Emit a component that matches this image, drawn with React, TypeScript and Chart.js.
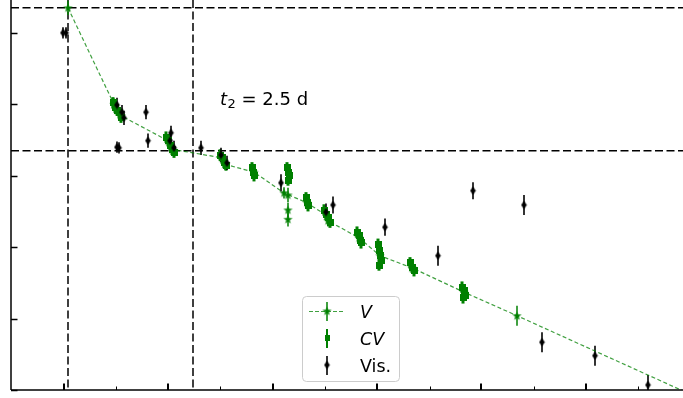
import React, { useEffect, useRef } from "react";
import { Chart, registerables } from "chart.js";

Chart.register(...registerables);

// Nova light curve: time since maximum (days) against magnitude.
const peakTime = 0;
const peakMag = 6.65;
const t2Days = 2.5;

// V photometry joined by the dashed curve
const vTimes = [0.0, 0.92, 0.98, 1.06, 2.0, 2.08, 3.08, 3.14, 3.72, 4.32, 4.78, 5.18, 5.2, 5.82, 6.24, 6.88, 7.92, 8.98, 13.3];
const vMags = [6.65, 8.0, 8.08, 8.16, 8.51, 8.63, 8.75, 8.84, 8.95, 9.24, 9.38, 9.56, 9.63, 9.87, 10.12, 10.29, 10.63, 10.96, 12.33];
const vErrs = [0.1, 0.08, 0.08, 0.08, 0.08, 0.08, 0.08, 0.08, 0.08, 0.08, 0.08, 0.08, 0.08, 0.08, 0.08, 0.08, 0.08, 0.14, 0.15];

// V points of the same night lying off the curve
const vSideTimes = [4.4, 4.4, 4.4];
const vSideMags = [9.27, 9.48, 9.61];
const vSideErrs = [0.1, 0.1, 0.1];

// Unfiltered CCD (CV) photometry
const cvTimes = [
  0.9, 0.94, 0.98, 1.02, 1.06,
  1.96, 2.0, 2.04, 2.08, 2.12,
  3.04, 3.08, 3.12, 3.16,
  3.68, 3.7, 3.72,
  4.38, 4.4, 4.42, 4.4,
  4.76, 4.78, 4.8,
  5.12, 5.16, 5.2, 5.24,
  5.78, 5.82, 5.84, 5.86,
  6.2, 6.22, 6.24, 6.26, 6.22,
  6.84, 6.88, 6.92,
  7.88, 7.92, 7.94, 7.9,
];
const cvMags = [
  7.98, 8.04, 8.08, 8.12, 8.18,
  8.46, 8.51, 8.57, 8.63, 8.67,
  8.71, 8.75, 8.81, 8.85,
  8.89, 8.95, 9.0,
  8.89, 8.95, 9.0, 9.06,
  9.31, 9.37, 9.42,
  9.48, 9.54, 9.59, 9.65,
  9.79, 9.84, 9.9, 9.94,
  9.96, 10.04, 10.11, 10.18, 10.25,
  10.22, 10.28, 10.33,
  10.56, 10.61, 10.67, 10.71,
];
const cvErrs = cvTimes.map(() => 0.08);

// Visual estimates
const visTimes = [-0.1, -0.04, 0.98, 1.08, 1.12, 0.98, 1.02, 1.56, 1.6, 2.06, 2.04, 2.12, 2.66, 3.06, 3.18, 4.26, 5.16, 5.3, 6.34, 7.4, 8.1, 9.12, 9.48, 10.54, 11.6];
const visMags = [7.0, 7.0, 8.01, 8.11, 8.19, 8.6, 8.61, 8.11, 8.51, 8.4, 8.51, 8.61, 8.61, 8.71, 8.82, 9.1, 9.51, 9.41, 9.72, 10.12, 9.21, 9.41, 11.33, 11.52, 11.93];
const visErrs = [0.08, 0.08, 0.1, 0.1, 0.1, 0.08, 0.08, 0.1, 0.1, 0.1, 0.1, 0.1, 0.1, 0.1, 0.1, 0.12, 0.12, 0.12, 0.12, 0.14, 0.12, 0.14, 0.14, 0.14, 0.14];

// Axis ranges and tick positions
const xRange = [-1.14, 12.3];
const yRange = [6.54, 12.0];
const xMajorTicks = [-0.08, 2.01, 4.1, 6.18, 8.27, 10.36];
const xMinorTicks = [0.96, 3.05, 5.14, 7.23, 9.31, 11.4];
const yMajorTicks = [7, 8, 9, 10, 11, 12];

const GREEN = "#008000";
const FONT = "'DejaVu Sans', sans-serif";

const pts = (ts: number[], ms: number[]) => ts.map((t, i) => ({ x: t, y: ms[i] }));

function makeMarker(w: number, h: number, draw: (g: CanvasRenderingContext2D) => void) {
  const c = document.createElement("canvas");
  c.width = w;
  c.height = h;
  draw(c.getContext("2d")!);
  return c;
}

function starMarker(color: string) {
  return makeMarker(11, 11, (g) => {
    g.fillStyle = color;
    g.beginPath();
    for (let k = 0; k < 10; k++) {
      const r = k % 2 === 0 ? 4.8 : 1.9;
      const a = -Math.PI / 2 + (k * Math.PI) / 5;
      const px = 5.5 + r * Math.cos(a);
      const py = 5.8 + r * Math.sin(a);
      if (k === 0) g.moveTo(px, py);
      else g.lineTo(px, py);
    }
    g.closePath();
    g.fill();
  });
}

function squareMarker(color: string) {
  return makeMarker(7, 7, (g) => {
    g.fillStyle = color;
    g.fillRect(0, 0, 7, 7);
  });
}

function diamondMarker(color: string) {
  return makeMarker(7, 9, (g) => {
    g.fillStyle = color;
    g.beginPath();
    g.moveTo(3.5, 0.3);
    g.lineTo(6.3, 4.5);
    g.lineTo(3.5, 8.7);
    g.lineTo(0.7, 4.5);
    g.closePath();
    g.fill();
  });
}

function seg(ctx: CanvasRenderingContext2D, x1: number, y1: number, x2: number, y2: number) {
  ctx.beginPath();
  ctx.moveTo(x1, y1);
  ctx.lineTo(x2, y2);
  ctx.stroke();
}

const overlay = {
  id: "overlay",
  beforeDatasetsDraw(chart: any) {
    const { ctx, chartArea: a, scales } = chart;
    const x = scales.x;
    const y = scales.y;
    ctx.save();
    ctx.beginPath();
    ctx.rect(a.left, a.top, a.right - a.left, a.bottom - a.top);
    ctx.clip();

    // maximum and maximum + 2 mag; time of maximum and t2
    ctx.strokeStyle = "#000";
    ctx.lineWidth = 1.5;
    ctx.setLineDash([8, 3.5]);
    for (const m of [peakMag, peakMag + 2]) {
      const py = y.getPixelForValue(m);
      seg(ctx, a.left, py, a.right, py);
    }
    for (const t of [peakTime, peakTime + t2Days]) {
      const px = x.getPixelForValue(t);
      seg(ctx, px, a.top, px, a.bottom);
    }
    ctx.setLineDash([]);

    // vertical error bars
    chart.data.datasets.forEach((ds: any) => {
      if (!ds.errors) return;
      ctx.strokeStyle = ds.errColor;
      ctx.lineWidth = ds.errWidth;
      ds.data.forEach((p: any, i: number) => {
        const px = x.getPixelForValue(p.x);
        seg(ctx, px, y.getPixelForValue(p.y - ds.errors[i]), px, y.getPixelForValue(p.y + ds.errors[i]));
      });
    });
    ctx.restore();
  },
  afterDatasetsDraw(chart: any) {
    const { ctx, chartArea: a, scales } = chart;
    const x = scales.x;
    const y = scales.y;
    ctx.save();

    // spines
    ctx.strokeStyle = "#000";
    ctx.lineWidth = 1.5;
    seg(ctx, a.left, a.top, a.left, a.bottom);
    seg(ctx, a.left, a.bottom, a.right, a.bottom);

    // inward ticks
    for (const m of yMajorTicks) {
      const py = Math.round(y.getPixelForValue(m)) + 0.5;
      seg(ctx, a.left, py, a.left + 6.5, py);
    }
    ctx.lineWidth = 2;
    for (const t of xMajorTicks) {
      const px = Math.round(x.getPixelForValue(t));
      seg(ctx, px, a.bottom, px, a.bottom - 6.5);
    }
    ctx.lineWidth = 1;
    for (const t of xMinorTicks) {
      const px = Math.round(x.getPixelForValue(t)) + 0.5;
      seg(ctx, px, a.bottom, px, a.bottom - 3.5);
    }

    // t2 annotation
    ctx.fillStyle = "#000";
    ctx.textBaseline = "alphabetic";
    ctx.font = `italic 18px ${FONT}`;
    let tx = 220;
    const ty = 105;
    ctx.fillText("t", tx, ty);
    tx += ctx.measureText("t").width + 0.5;
    ctx.font = `13px ${FONT}`;
    ctx.fillText("2", tx, ty + 3);
    tx += ctx.measureText("2").width;
    ctx.font = `18px ${FONT}`;
    ctx.fillText(" = 2.5 d", tx, ty);

    // legend
    const bx = 302.5, by = 296.5, bw = 97, bh = 85, r = 4;
    ctx.beginPath();
    ctx.moveTo(bx + r, by);
    ctx.arcTo(bx + bw, by, bx + bw, by + bh, r);
    ctx.arcTo(bx + bw, by + bh, bx, by + bh, r);
    ctx.arcTo(bx, by + bh, bx, by, r);
    ctx.arcTo(bx, by, bx + bw, by, r);
    ctx.closePath();
    ctx.fillStyle = "rgba(255,255,255,0.8)";
    ctx.fill();
    ctx.strokeStyle = "#cccccc";
    ctx.lineWidth = 1;
    ctx.stroke();

    const hx = 327;
    const entries = chart.data.datasets.filter((d: any) => d.inLegend);
    entries.forEach((ds: any, i: number) => {
      const cy = 311 + i * 27;
      if (ds.showLine) {
        ctx.strokeStyle = ds.borderColor;
        ctx.lineWidth = 1.2;
        ctx.setLineDash([4, 2]);
        seg(ctx, 309, cy + 0.5, 345, cy + 0.5);
        ctx.setLineDash([]);
      }
      ctx.strokeStyle = ds.errColor;
      ctx.lineWidth = Math.min(ds.errWidth, 2);
      seg(ctx, hx, cy - 9, hx, cy + 10);
      const img = ds.legendMarker as HTMLCanvasElement;
      ctx.drawImage(img, hx - img.width / 2, cy - img.height / 2);
      ctx.fillStyle = "#000";
      ctx.font = `${ds.italic ? "italic " : ""}17.5px ${FONT}`;
      ctx.fillText(ds.label, 360, cy + 6.5);
    });
    ctx.restore();
  },
};

export default function App() {
  const ref = useRef<HTMLCanvasElement>(null);

  useEffect(() => {
    const star = starMarker(GREEN);
    const square = squareMarker(GREEN);
    const smallSquare = makeMarker(5, 6, (g) => {
      g.fillStyle = GREEN;
      g.fillRect(0, 0, 5, 6);
    });
    const diamond = diamondMarker("#000");

    const chart = new Chart(ref.current!, {
      type: "scatter",
      data: {
        datasets: [
          {
            label: "V",
            data: pts(vTimes, vMags),
            errors: vErrs,
            errColor: GREEN,
            errWidth: 1.5,
            inLegend: true,
            italic: true,
            showLine: true,
            borderColor: "rgba(0,128,0,0.75)",
            borderWidth: 1.2,
            borderDash: [4, 2.5],
            pointStyle: star,
            legendMarker: star,
            pointRadius: 5,
            order: 1,
          },
          {
            label: "V (same night)",
            data: pts(vSideTimes, vSideMags),
            errors: vSideErrs,
            errColor: GREEN,
            errWidth: 1.5,
            inLegend: false,
            showLine: false,
            pointStyle: star,
            pointRadius: 5,
            order: 2,
          },
          {
            label: "CV",
            data: pts(cvTimes, cvMags),
            errors: cvErrs,
            errColor: GREEN,
            errWidth: 3,
            inLegend: true,
            italic: true,
            showLine: false,
            pointStyle: square,
            legendMarker: smallSquare,
            pointRadius: 3,
            order: 3,
          },
          {
            label: "Vis.",
            data: pts(visTimes, visMags),
            errors: visErrs,
            errColor: "#000",
            errWidth: 1.6,
            inLegend: true,
            italic: false,
            showLine: false,
            pointStyle: diamond,
            legendMarker: diamond,
            pointRadius: 4,
            order: 0,
          },
        ] as any,
      },
      options: {
        animation: false,
        responsive: false,
        devicePixelRatio: 1,
        events: [],
        layout: { autoPadding: false, padding: { left: 11, right: 0, top: 0, bottom: 8 } },
        scales: {
          x: { type: "linear", display: false, min: xRange[0], max: xRange[1] },
          y: { type: "linear", display: false, reverse: true, min: yRange[0], max: yRange[1] },
        },
        plugins: { legend: { display: false }, tooltip: { enabled: false } },
      },
      plugins: [overlay],
    } as any);

    return () => chart.destroy();
  }, []);

  return (
    <div style={{ position: "fixed", left: 0, top: 0, width: 683, height: 398, background: "#fff" }}>
      <canvas ref={ref} width={683} height={398} style={{ display: "block" }} />
    </div>
  );
}
